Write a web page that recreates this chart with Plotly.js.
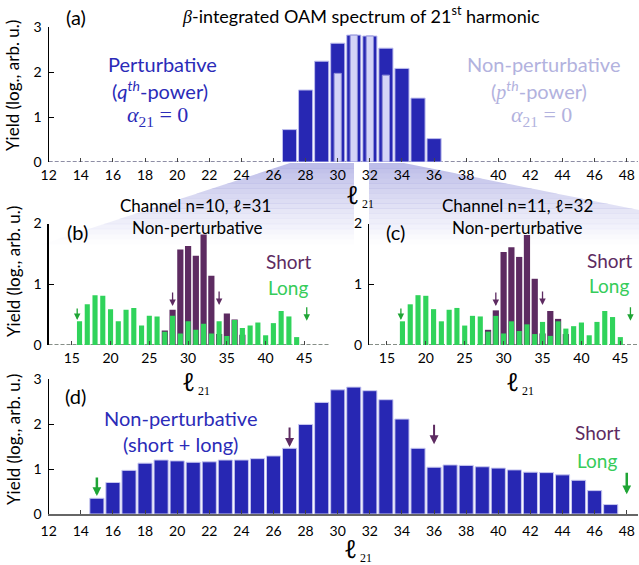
<!DOCTYPE html>
<html>
<head>
<meta charset="utf-8">
<script src="https://cdn.plot.ly/plotly-3.0.1.min.js"></script>
<style>html,body{margin:0;padding:0;background:#fff;}#chart{width:639px;height:565px;}</style>
</head>
<body>
<div id="chart"></div>
<script>
// ---------- data ----------
const ellA = [27, 28, 29, 30, 31, 32, 33, 34, 35, 36];
const yieldPertA = [0.72, 1.60, 2.24, 2.64, 2.82, 2.80, 2.53, 2.08, 1.42, 0.52];
const ellNonPertA = [30, 31, 32, 33];
const yieldNonPertA = [1.97, 2.82, 2.80, 1.93];

const ellLongB = [16,17,18,19,20,21,22,23,24,25,26,27,28,29,30,31,32,33,34,35,36,37,38,39,40,41,42,43,44];
const longB = [0.39,0.67,0.82,0.81,0.59,0.39,0.58,0.61,0.32,0.48,0.47,0.22,0.48,0.19,0.39,0.25,0.35,0.19,0.39,0.15,0.41,0.28,0.32,0.37,0.16,0.36,0.56,0.47,0.13];
const ellShortB = [27,28,29,30,31,32,33,34,35,36,37];
const shortB = [0.24,0.58,1.57,1.63,1.47,1.82,1.14,0.18,0.52,0.42,0.17];

const ellLongC = [17,18,19,20,21,22,23,24,25,26,27,28,29,30,31,32,33,34,35,36,37,38,39,40,41,42,43,44,45];
const longC = [0.39,0.67,0.82,0.81,0.59,0.39,0.58,0.61,0.32,0.48,0.47,0.22,0.48,0.19,0.39,0.23,0.34,0.18,0.38,0.15,0.39,0.27,0.31,0.37,0.16,0.38,0.56,0.46,0.13];
const ellShortC = [28,29,30,31,32,33,34,35,36,37,38];
const shortC = [0.25,0.57,1.53,1.61,1.45,1.81,1.09,0.19,0.56,0.43,0.18];

const ellD = [15,16,17,18,19,20,21,22,23,24,25,26,27,28,29,30,31,32,33,34,35,36,37,38,39,40,41,42,43,44,45,46,47];
const yieldD = [0.35,0.70,0.97,1.13,1.20,1.18,1.15,1.16,1.20,1.20,1.23,1.29,1.46,1.99,2.48,2.76,2.82,2.74,2.54,2.11,1.46,1.04,1.09,1.08,1.05,1.02,0.98,0.93,0.92,0.87,0.75,0.52,0.21];

const ticksAD = [12,14,16,18,20,22,24,26,28,30,32,34,36,38,40,42,44,46,48];
const ticksBC = [15,20,25,30,35,40,45];

// ---------- styling ----------
const W = 639, H = 565;
const SANS = "Lato, 'Open Sans', sans-serif";
const SERIF = "'Liberation Serif', 'DejaVu Serif', serif";
const ELLF = "'Noto Sans', 'DejaVu Sans', serif";
const BLUE = '#2727b3', BLUE_T = '#2b2bb8', LAV_T = '#b2b2de';
const PURPLE = '#5d2b61', GREEN = '#30d35b', GREEN_T = '#36cc5a', GREEN_D = '#1fa535';
const fx = p => p / W, fy = p => 1 - p / H;
const ell = '<span style="font-family:' + ELLF + '">ℓ</span>';

function yAx(dom, rng, tv) {
  return {domain: dom, range: rng, tickvals: tv, ticks: 'inside', ticklen: 5, tickcolor: '#000',
    showline: true, linecolor: '#000', linewidth: 1.2, showgrid: false, zeroline: false,
    tickfont: {family: SANS, size: 14, color: '#000'}, ticklabelstandoff: 3, fixedrange: true};
}
function xAx(dom, rng, tv, anchor, showline, standoff) {
  return {domain: dom, range: rng, tickvals: tv, ticks: 'inside', ticklen: 4, tickcolor: '#444',
    showline: showline, linecolor: '#666', linewidth: 1.5, showgrid: false, zeroline: false, anchor: anchor,
    tickfont: {family: SANS, size: 14, color: '#000'}, ticklabelstandoff: standoff, fixedrange: true};
}

const traces = [
  {type: 'bar', x: ellA, y: yieldPertA, width: 0.88, xaxis: 'x', yaxis: 'y',
   marker: {color: BLUE, line: {color: 'rgba(190,190,238,1)', width: 1}}},
  {type: 'bar', x: ellNonPertA, y: yieldNonPertA, width: 0.45, xaxis: 'x', yaxis: 'y',
   marker: {color: '#d4d4f7', line: {color: '#8e8ed8', width: 1}}},
  {type: 'bar', x: ellShortB, y: shortB, width: 0.8, xaxis: 'x2', yaxis: 'y2', marker: {color: PURPLE}},
  {type: 'bar', x: ellLongB, y: longB, width: 0.66, xaxis: 'x2', yaxis: 'y2', marker: {color: GREEN}},
  {type: 'bar', x: ellShortC, y: shortC, width: 0.8, xaxis: 'x3', yaxis: 'y3', marker: {color: PURPLE}},
  {type: 'bar', x: ellLongC, y: longC, width: 0.66, xaxis: 'x3', yaxis: 'y3', marker: {color: GREEN}},
  {type: 'bar', x: ellD, y: yieldD, width: 0.88, xaxis: 'x4', yaxis: 'y4',
   marker: {color: BLUE, line: {color: 'rgba(200,200,240,1)', width: 1}}}
];

// ---------- wedge shading (gradient strips) ----------
const shapes = [];
const N = 16, yTop = 163, yBot = 244;
function pathOf(pts) {
  return 'M' + pts.map(p => fx(p[0]).toFixed(5) + ',' + fy(p[1]).toFixed(5)).join(' L') + ' Z';
}
const xl = y => 290 - (y - 163) * (235 / 77);
const xr = y => Math.min(639, 404 + (y - 163) * 5);
for (let i = 0; i < N; i++) {
  const y1 = yTop + i * (yBot - yTop) / N, y2 = yTop + (i + 1) * (yBot - yTop) / N + 0.4;
  const a = 0.8 * Math.pow(1 - (i + 0.5) / N, 1.1);
  const col = 'rgba(170,170,226,' + a.toFixed(3) + ')';
  shapes.push({type: 'path', xref: 'paper', yref: 'paper', layer: 'below', fillcolor: col, line: {width: 0},
    path: pathOf([[xl(y1), y1], [354, y1], [354, y2], [xl(y2), y2]])});
  const pts = [[369, y1], [xr(y1), y1]];
  if (y1 < 210 && y2 > 210) pts.push([639, 210]);
  pts.push([xr(y2), y2], [369, y2]);
  shapes.push({type: 'path', xref: 'paper', yref: 'paper', layer: 'below', fillcolor: col, line: {width: 0},
    path: pathOf(pts)});
}
// dashed baselines
shapes.push({type: 'line', xref: 'x', yref: 'y', x0: 12, x1: 48.7, y0: 0, y1: 0, layer: 'below',
  line: {color: '#6a6a88', width: 1.5, dash: '4px,2px'}});
shapes.push({type: 'line', xref: 'x2', yref: 'y2', x0: 12, x1: 48.3, y0: 0, y1: 0, layer: 'below',
  line: {color: '#5f6a60', width: 1.5, dash: '4px,2px'}});
shapes.push({type: 'line', xref: 'x3', yref: 'y3', x0: 12.7, x1: 47.4, y0: 0, y1: 0, layer: 'below',
  line: {color: '#5f6a60', width: 1.5, dash: '4px,2px'}});

// ---------- annotations ----------
const ann = [];
function txt(t, x, y, size, color, family, extra) {
  ann.push(Object.assign({text: t, xref: 'paper', yref: 'paper', x: fx(x), y: fy(y), xanchor: 'center', yanchor: 'middle',
    showarrow: false, font: {family: family || SANS, size: size, color: color || '#000'}}, extra || {}));
}
function arrow(xr_, yr_, x, y, ay, color, w, sz) {
  ann.push({xref: xr_, yref: yr_, x: x, y: y, ax: 0, ay: ay, text: '', showarrow: true,
    arrowhead: 2, arrowsize: sz || 1, arrowwidth: w, arrowcolor: color, standoff: 0});
}
const ellSub = '<span style="font-family:' + ELLF + ';font-size:25px">ℓ</span><sub> 21</sub>';

// panel a
txt('<span style="font-family:' + SERIF + '"><i>β</i></span>-integrated OAM spectrum of 21<sup>st</sup> harmonic', 361, 15, 18);
txt('(a)', 76, 17, 20);
txt('Perturbative', 162, 64, 20, BLUE_T);
txt('(<i>q<sup>th</sup></i>-power)', 160, 90, 20, BLUE_T);
txt('<i>α</i><sub>21</sub> = 0', 157, 116, 22, BLUE_T, SERIF);
txt('Non-perturbative', 543, 64, 20, LAV_T);
txt('(<span style="font-family:' + SERIF + '"><i>p</i></span><i><sup>th</sup></i>-power)', 539, 90, 20, LAV_T);
txt('<i>α</i><sub>21</sub> = 0', 541, 116, 22, LAV_T, SERIF);
txt(ellSub, 360, 194, 17, '#000', SERIF);
txt('Yield (log., arb. u.)', 13, 86, 17, '#000', SANS, {textangle: -90});

// panel b
txt('Channel n=10, ' + ell + '=31', 195, 205, 17);
txt('Non-perturbative', 197, 227, 17);
txt('(b)', 77, 232, 20);
txt('Short', 288, 261, 19, PURPLE);
txt('Long', 288, 287, 19, GREEN_T);
txt(ellSub, 196, 381, 17, '#000', SERIF);
txt('Yield (log., arb. u.)', 13, 272, 17, '#000', SANS, {textangle: -90});
arrow('x2', 'y2', 28, 0.64, -15, PURPLE, 1.3);
arrow('x2', 'y2', 34, 0.66, -15, PURPLE, 1.3);
arrow('x2', 'y2', 15.7, 0.41, -13, GREEN_D, 1.3);
arrow('x2', 'y2', 45.3, 0.40, -15, GREEN_D, 1.3);

// panel c
txt('Channel n=11, ' + ell + '=32', 517, 205, 17);
txt('Non-perturbative', 517, 227, 17);
txt('(c)', 395, 232, 20);
txt('Short', 609, 260, 19, PURPLE);
txt('Long', 609, 285, 19, GREEN_T);
txt(ellSub, 520, 381, 17, '#000', SERIF);
arrow('x3', 'y3', 29, 0.64, -15, PURPLE, 1.3);
arrow('x3', 'y3', 35, 0.66, -15, PURPLE, 1.3);
arrow('x3', 'y3', 16.8, 0.41, -13, GREEN_D, 1.3);
arrow('x3', 'y3', 46.3, 0.40, -15, GREEN_D, 1.3);

// panel d
txt('(d)', 75, 396, 20);
txt('Non-perturbative', 180, 418, 20, BLUE_T);
txt('(short + long)', 180, 444, 20, BLUE_T);
txt('Short', 597, 433, 19, PURPLE);
txt('Long', 597, 460, 19, GREEN_T);
txt(ellSub, 358, 548, 17, '#000', SERIF);
txt('Yield (log., arb. u.)', 13, 440, 17, '#000', SANS, {textangle: -90});
arrow('x4', 'y4', 27, 1.49, -21, PURPLE, 2, 0.9);
arrow('x4', 'y4', 36, 1.55, -21, PURPLE, 2, 0.9);
arrow('x4', 'y4', 15, 0.40, -20, GREEN_D, 2.5, 0.7);
arrow('x4', 'y4', 48, 0.44, -23, GREEN_D, 2.5, 0.7);

const layout = {
  width: W, height: H, margin: {l: 0, r: 0, t: 0, b: 0}, showlegend: false,
  paper_bgcolor: '#fff', plot_bgcolor: 'rgba(0,0,0,0)', barmode: 'overlay',
  xaxis: xAx([fx(48.7), fx(638)], [12, 48.7], ticksAD, 'y', false, 3),
  yaxis: yAx([fy(162), fy(27)], [0, 3], [0, 1, 2, 3]),
  xaxis2: xAx([fx(48.5), fx(330)], [12, 48.3], ticksBC, 'y2', false, 3),
  yaxis2: Object.assign(yAx([fy(345), fy(223.5)], [0, 2], [0, 1, 2]), {anchor: 'x2'}),
  xaxis3: xAx([fx(369), 1], [12.7, 47.4], ticksBC, 'y3', false, 3),
  yaxis3: Object.assign(yAx([fy(345), fy(223.5)], [0, 2], [0, 1, 2]), {anchor: 'x3'}),
  xaxis4: xAx([fx(48.7), fx(638)], [12, 48.7], ticksAD, 'y4', true, 4),
  yaxis4: Object.assign(yAx([fy(514), fy(379)], [0, 3], [0, 1, 2, 3]), {anchor: 'x4'}),
  shapes: shapes, annotations: ann
};
layout.yaxis.anchor = 'x';

Plotly.newPlot('chart', traces, layout, {staticPlot: true, displayModeBar: false});
</script>
</body>
</html>
